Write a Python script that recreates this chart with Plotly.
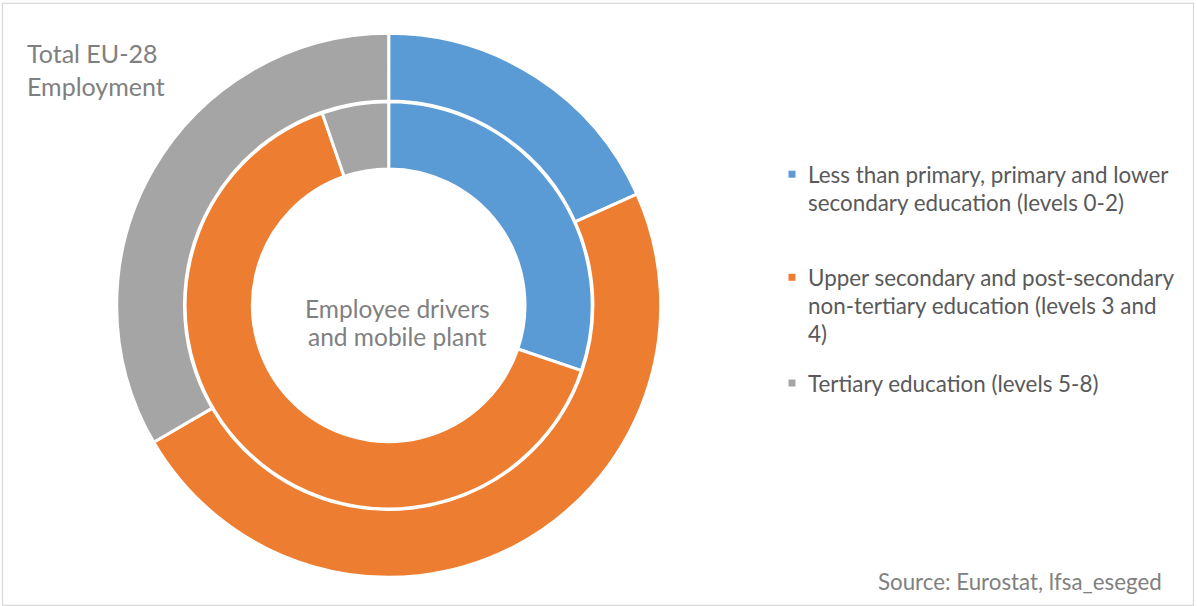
import plotly.graph_objects as go

# Education level categories (ISCED groupings)
categories = [
    "Less than primary, primary and lower secondary education (levels 0-2)",
    "Upper secondary and post-secondary non-tertiary education (levels 3 and 4)",
    "Tertiary education (levels 5-8)",
]
legend_lines = [
    ["Less than primary, primary and lower", "secondary education (levels 0-2)"],
    ["Upper secondary and post-secondary", "non-tertiary education (levels 3 and", "4)"],
    ["Tertiary education (levels 5-8)"],
]
# Shares of employment (%) by education level
total_eu28_employment = [18.3, 48.3, 33.4]
employee_drivers_mobile_plant = [30.2, 64.5, 5.3]
colors = ["#5B9BD5", "#ED7D31", "#A5A5A5"]

W, H = 1197, 606
FONT = "Lato"

cx, cy = 388.7, 305.3  # donut centre, pixels from top-left
r_outer = 272.0
r_inner = 203.5


def dom(r):
    return dict(
        x=[(cx - r) / W, (cx + r) / W],
        y=[(H - cy - r) / H, (H - cy + r) / H],
    )


fig = go.Figure()
fig.add_trace(go.Pie(
    labels=categories, values=total_eu28_employment, name="Total EU-28 Employment",
    hole=204.2 / r_outer, domain=dom(r_outer), sort=False, direction="clockwise",
    rotation=0, textinfo="none", showlegend=False,
    marker=dict(colors=colors, line=dict(color="white", width=3)),
))
fig.add_trace(go.Pie(
    labels=categories, values=employee_drivers_mobile_plant,
    name="Employee drivers and mobile plant",
    hole=136.3 / r_inner, domain=dom(r_inner), sort=False, direction="clockwise",
    rotation=0, textinfo="none", showlegend=False,
    marker=dict(colors=colors, line=dict(color="white", width=3)),
))

annotations = []
shapes = []


def px_x(x):
    return x / W


def px_y(y):
    return 1 - y / H


def add_text(text, x, y, size, color, xanchor="left"):
    annotations.append(dict(
        text=text, x=px_x(x), y=px_y(y), xref="paper", yref="paper",
        xanchor=xanchor, yanchor="middle", showarrow=False,
        font=dict(family=FONT, size=size, color=color),
    ))


# Ring titles
add_text("Total EU-28", 24.5, 53, 25, "#808080")
add_text("Employment", 24.5, 86, 25, "#808080")
add_text("Employee drivers", 397.5, 308, 24.5, "#808080", xanchor="center")
add_text("and mobile plant", 397.5, 336, 24.5, "#808080", xanchor="center")

# Legend
legend_first_line_y = [174.2, 277.3, 383.0]
line_step = 28.3
for lines, color, y0 in zip(legend_lines, colors, legend_first_line_y):
    shapes.append(dict(
        type="rect", xref="paper", yref="paper",
        x0=px_x(788.5), x1=px_x(795.5), y0=px_y(y0 - 3.5), y1=px_y(y0 + 3.5),
        fillcolor=color, line=dict(width=0),
    ))
    for i, line in enumerate(lines):
        add_text(line, 805.5, y0 + i * line_step, 22.4, "#595959")

# Source note
add_text("Source: Eurostat, lfsa_eseged", 1164, 581, 22.3, "#808080", xanchor="right")

# Chart area border
shapes.append(dict(
    type="rect", xref="paper", yref="paper",
    x0=px_x(2.5), x1=px_x(1193.5), y0=px_y(605.5), y1=px_y(3.3),
    line=dict(color="#D9D9D9", width=1.3), fillcolor="rgba(0,0,0,0)",
))

fig.update_layout(
    width=W, height=H,
    margin=dict(l=0, r=0, t=0, b=0),
    paper_bgcolor="white", plot_bgcolor="white",
    annotations=annotations, shapes=shapes,
    showlegend=False,
    font=dict(family=FONT),
)

fig.write_html("out.html")
